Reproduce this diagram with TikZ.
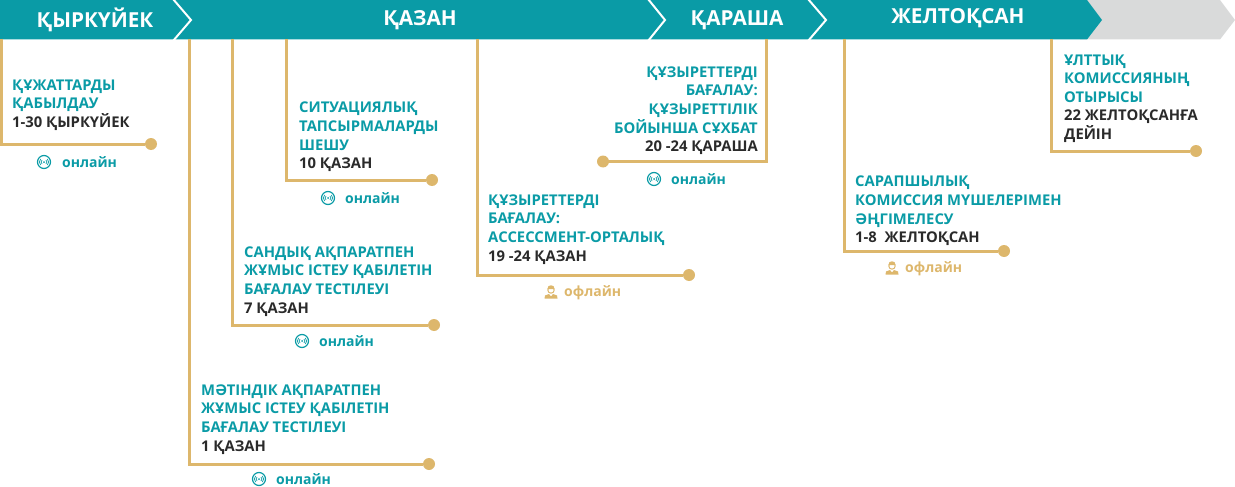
\documentclass[tikz,border=0pt]{standalone}
\usepackage{fontspec}
\setmainfont{Open Sans}
\usetikzlibrary{positioning}
\definecolor{bandTeal}{HTML}{0A9BA6}
\definecolor{bandGray}{HTML}{D9DADA}
\definecolor{lineGold}{HTML}{DDB76C}
\definecolor{darkText}{HTML}{2A2A2A}
\tikzstyle{goldLine}=[draw=lineGold, line width=3pt]
\tikzstyle{chevron}=[draw=white, line width=2pt]
\tikzstyle{monthLabel}=[text=white, font=\fontsize{20.7}{24}\selectfont\bfseries, inner sep=0pt]
\tikzstyle{stepLabel}=[text=bandTeal, font=\fontsize{14.8}{18.55}\selectfont\bfseries, inner sep=0pt, anchor=north west, align=left]
\tikzstyle{stepLabelR}=[stepLabel, anchor=north east, align=right]
\tikzstyle{endDot}=[circle, fill=lineGold, minimum size=12pt, inner sep=0pt]
\tikzstyle{modeOn}=[text=bandTeal, font=\fontsize{14}{18}\selectfont\bfseries, inner sep=0pt, anchor=west]
\tikzstyle{modeOff}=[modeOn, text=lineGold]
\newcommand\dateText[1]{\textcolor{darkText}{#1}}
\newcommand\iconOnline{}
\def\iconOnline(#1,#2){%
  \draw[bandTeal, line width=1.2pt] (#1,#2) circle (6.5);
  \fill[bandTeal] (#1,#2) circle (1);
  \draw[bandTeal, line width=.7pt] (#1-2,#2-2) .. controls (#1-3.2,#2) .. (#1-2,#2+2);
  \draw[bandTeal, line width=.7pt] (#1+2,#2-2) .. controls (#1+3.2,#2) .. (#1+2,#2+2);
  \draw[bandTeal, line width=.7pt] (#1-3.4,#2-3) .. controls (#1-5,#2) .. (#1-3.4,#2+3);
  \draw[bandTeal, line width=.7pt] (#1+3.4,#2-3) .. controls (#1+5,#2) .. (#1+3.4,#2+3);
}
\newcommand\iconOffline{}
\def\iconOffline(#1,#2){%
  \fill[lineGold] (#1-3.6,#2-3) .. controls (#1-4,#2-8) and (#1+4,#2-8) .. (#1+3.6,#2-3) -- cycle;
  \draw[lineGold, line width=1pt] (#1,#2-2) circle (3.2);
  \fill[lineGold] (#1-6.5,#2+6.5) -- (#1-6,#2+3.5) -- (#1-2,#2+2) -- (#1,#2+4.5) -- (#1+2,#2+2) -- (#1+6,#2+3.5) -- (#1+6.5,#2+6.5) -- cycle;
}
\begin{document}
\begin{tikzpicture}[x=1pt, y=-1pt]
    \useasboundingbox (0,0) rectangle (1235,487);
    % band
    \fill[bandGray] (1080,0) -- (1220,0) -- (1235,20) -- (1220,39.5) -- (1080,39.5) -- cycle;
    \fill[bandTeal] (0,0) -- (1087,0) -- (1102,20) -- (1087,39.5) -- (0,39.5) -- cycle;
    \draw[chevron] (173,-1) -- (191,20) -- (173,41);
    \draw[chevron] (648,-1) -- (665,20) -- (648,41);
    \draw[chevron] (808,-1) -- (826,20) -- (808,41);
    \node[monthLabel] (monthSep) at (95,20) {ҚЫРКҮЙЕК};
    \node[monthLabel] (monthOct) at (420,20) {ҚАЗАН};
    \node[monthLabel] (monthNov) at (737,20) {ҚАРАША};
    \node[monthLabel] (monthDec) at (958,18) {ЖЕЛТОҚСАН};
    % line starts
    \coordinate (startDocs) at (1,39);
    \coordinate (startText) at (189,39);
    \coordinate (startDigit) at (232,39);
    \coordinate (startCase) at (286,39);
    \coordinate (startCentre) at (477,39);
    \coordinate (startTalk) at (766,39);
    \coordinate (startPanel) at (844,39);
    \coordinate (startFinal) at (1051,39);
    % ends
    \node[endDot] (dotDocs) at (151,144) {};
    \node[endDot] (dotText) at (429,464) {};
    \node[endDot] (dotDigit) at (434,325) {};
    \node[endDot] (dotCase) at (432,180) {};
    \node[endDot] (dotCentre) at (689,275) {};
    \node[endDot] (dotTalk) at (603,161.5) {};
    \node[endDot] (dotPanel) at (1004,251) {};
    \node[endDot] (dotFinal) at (1196,151) {};
    \draw[goldLine] (startDocs) |- (dotDocs);
    \draw[goldLine] (startText) |- (dotText);
    \draw[goldLine] (startDigit) |- (dotDigit);
    \draw[goldLine] (startCase) |- (dotCase);
    \draw[goldLine] (startCentre) |- (dotCentre);
    \draw[goldLine] (startTalk) |- (dotTalk);
    \draw[goldLine] (startPanel) |- (dotPanel);
    \draw[goldLine] (startFinal) |- (dotFinal);
    % steps
    \node[stepLabel] (stepDocs) at (12,79.5) {ҚҰЖАТТАРДЫ\\ҚАБЫЛДАУ\\\dateText{1-30 ҚЫРКҮЙЕК}};
    \node[stepLabel] (stepCase) at (299,102) {СИТУАЦИЯЛЫҚ\\ТАПСЫРМАЛАРДЫ\\ШЕШУ\\\dateText{10 ҚАЗАН}};
    \node[stepLabel] (stepDigit) at (244,246.5) {САНДЫҚ АҚПАРАТПЕН\\ЖҰМЫС ІСТЕУ ҚАБІЛЕТІН\\БАҒАЛАУ ТЕСТІЛЕУІ\\\dateText{7 ҚАЗАН}};
    \node[stepLabel] (stepText) at (201,384.5) {МӘТІНДІК АҚПАРАТПЕН\\ЖҰМЫС ІСТЕУ ҚАБІЛЕТІН\\БАҒАЛАУ ТЕСТІЛЕУІ\\\dateText{1 ҚАЗАН}};
    \node[stepLabel] (stepCentre) at (488,194.5) {ҚҰЗЫРЕТТЕРДІ\\БАҒАЛАУ:\\АССЕССМЕНТ-ОРТАЛЫҚ\\\dateText{19 -24 ҚАЗАН}};
    \node[stepLabelR] (stepTalk) at (758,66.5) {ҚҰЗЫРЕТТЕРДІ\\БАҒАЛАУ:\\ҚҰЗЫРЕТТІЛІК\\БОЙЫНША СҰХБАТ\\\dateText{20 -24 ҚАРАША}};
    \node[stepLabel] (stepPanel) at (855,176) {САРАПШЫЛЫҚ\\КОМИССИЯ МҮШЕЛЕРІМЕН\\ӘҢГІМЕЛЕСУ\\\dateText{1-8 \ ЖЕЛТОҚСАН}};
    \node[stepLabel] (stepFinal) at (1064,54.5) {ҰЛТТЫҚ\\КОМИССИЯНЫҢ\\ОТЫРЫСЫ\\\dateText{22 ЖЕЛТОҚСАНҒА}\\\dateText{ДЕЙІН}};
    % modes
    \iconOnline(44,162)
    \node[modeOn] (modeDocs) at (62,162) {онлайн};
    \iconOnline(328,198)
    \node[modeOn] (modeCase) at (345,198) {онлайн};
    \iconOnline(302,341)
    \node[modeOn] (modeDigit) at (319,341) {онлайн};
    \iconOnline(259,479)
    \node[modeOn] (modeText) at (276,479) {онлайн};
    \iconOnline(654,179)
    \node[modeOn] (modeTalk) at (671,179) {онлайн};
    \iconOffline(551,292)
    \node[modeOff] (modeCentre) at (564,293) {офлайн};
    \iconOffline(892,268)
    \node[modeOff] (modePanel) at (905,268.5) {офлайн};
\end{tikzpicture}
\end{document}
